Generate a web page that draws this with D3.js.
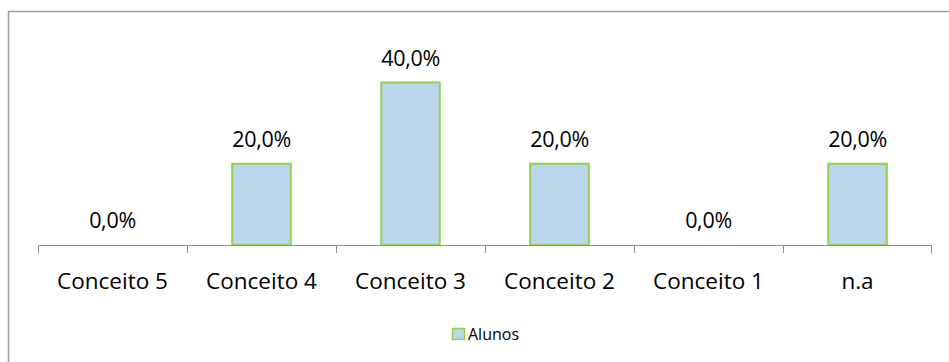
<!DOCTYPE html>
<html><head><meta charset="utf-8">
<script src="https://cdn.jsdelivr.net/npm/d3@7/dist/d3.min.js"></script>
<style>body{margin:0;background:#fff}svg{display:block}</style>
</head><body><svg id="c" width="949" height="362"></svg>
<script>
const categories = ["Conceito 5","Conceito 4","Conceito 3","Conceito 2","Conceito 1","n.a"];
const values = [0, 20, 40, 20, 0, 20];
const seriesName = "Alunos";

const svg = d3.select("#c");
const font = "'Open Sans', Lato, sans-serif";
svg.append("rect").attr("x",8.5).attr("y",11.5).attr("width",960).attr("height",380)
  .attr("fill","#fff").attr("stroke","#a0a0a0").attr("stroke-width",1.5);

const x = d3.scaleBand().domain(categories).range([38,932]).paddingInner(0.6).paddingOuter(0.3);
const y = d3.scaleLinear().domain([0,40]).range([245,82.5]);

svg.selectAll("rect.bar").data(values).enter().append("rect").attr("class","bar")
  .attr("x",(d,i)=>x(categories[i])+0.5).attr("width",x.bandwidth()-1)
  .attr("y",d=>y(d)).attr("height",d=>y(0)-y(d))
  .attr("fill","#bcd6ee").attr("stroke",d=>d>0?"#92d050":"none").attr("stroke-width",2);

const xb = d3.scaleBand().domain(categories).range([38,932]);
const ax = svg.append("g").attr("transform","translate(0,245.5)")
  .call(d3.axisBottom(xb).tickSize(0).tickPadding(0));
ax.select(".domain").attr("stroke","#909090").attr("d","M38.5,8V0H931.5V8");
ax.selectAll("text").attr("font-family",font).attr("font-size",22.5).attr("fill","#000")
  .attr("dy",null).attr("y",43.5);
const ticks = d3.range(categories.length+1).map(i=>38+i*xb.step());
svg.selectAll("line.tk").data(ticks.slice(1,-1)).enter().append("line")
  .attr("x1",d=>Math.round(d)+0.5).attr("x2",d=>Math.round(d)+0.5).attr("y1",245).attr("y2",253)
  .attr("stroke","#909090");

svg.selectAll("text.lbl").data(values).enter().append("text")
  .attr("x",(d,i)=>x(categories[i])+x.bandwidth()/2).attr("y",d=>y(d)-17)
  .attr("text-anchor","middle").attr("font-family",font).attr("font-size",21.5)
  .attr("letter-spacing",-0.3)
  .text(d=>d.toFixed(1).replace(".",",")+"%");

svg.append("rect").attr("x",452.5).attr("y",328.5).attr("width",12).attr("height",11)
  .attr("fill","#bcd6ee").attr("stroke","#92d050").attr("stroke-width",1.5);
svg.append("text").attr("x",468).attr("y",339.5).attr("font-family",font).attr("font-size",16).text(seriesName);
</script></body></html>
